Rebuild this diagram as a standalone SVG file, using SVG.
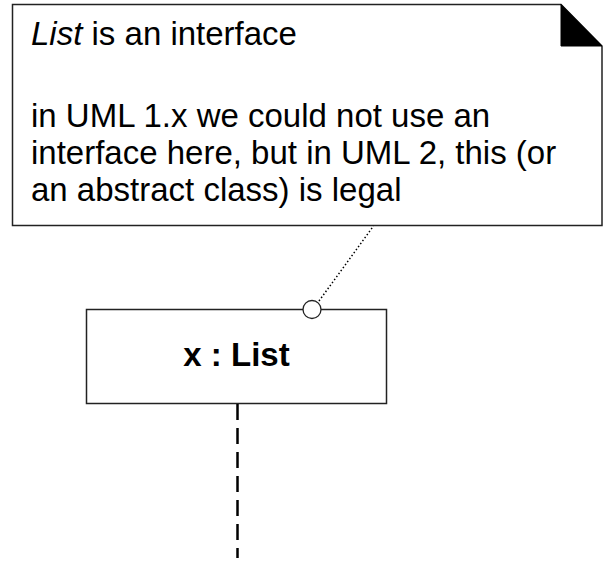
<svg xmlns="http://www.w3.org/2000/svg" width="603" height="577" viewBox="0 0 603 577">
<style>
.t{font-family:"Liberation Sans",Arial,Helvetica,sans-serif;font-size:33px;fill:#000}
.b{font-weight:bold}
.ln{fill:#fff;stroke:#222;stroke-width:1.5}
</style>
<rect width="603" height="577" fill="#fff"/>
<g id="note">
<path class="ln" d="M12.5,4.5 H561 L602,46 V225.5 H12.5 Z"/>
<path d="M561,4.5 L602,46 H561 Z" fill="#000" stroke="#000" stroke-width="1"/>
<text class="t" x="31" y="45"><tspan font-style="italic">List</tspan> is an interface</text>
<text class="t" x="31" y="127">in UML 1.x we could not use an</text>
<text class="t" x="31" y="164">interface here, but in UML 2, this (or</text>
<text class="t" x="31" y="201">an abstract class) is legal</text>
</g>
<g id="obj">
<rect class="ln" x="86.5" y="309.5" width="300" height="94"/>
<text class="t b" x="236.5" y="366" text-anchor="middle">x : List</text>
</g>
<g id="connectors">
<line x1="319" y1="301" x2="373.5" y2="226" stroke="#000" stroke-width="1.5" stroke-dasharray="1.5,2.2"/>
<circle cx="312" cy="309.5" r="9" fill="#fff" stroke="#222" stroke-width="1.3"/>
<line x1="237.5" y1="404" x2="237.5" y2="558" stroke="#000" stroke-width="2.5" stroke-dasharray="16,8"/>
</g>
</svg>
